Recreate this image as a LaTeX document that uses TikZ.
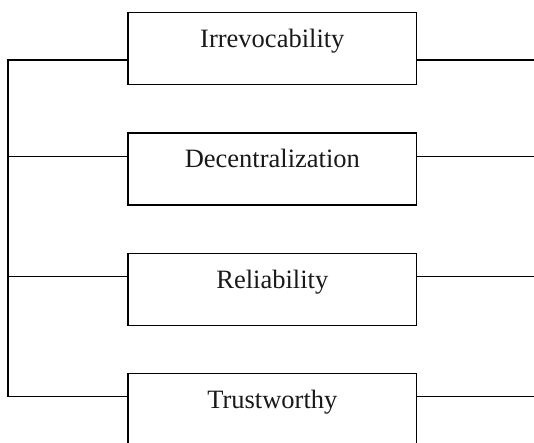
\documentclass[tikz,border=0pt]{standalone}
\usepackage{fontspec}
\setmainfont{Liberation Serif}
\begin{document}
\begin{tikzpicture}[x=1pt,y=1pt,
  prop/.style={draw, line width=1.4pt, rectangle, inner sep=0pt,
    minimum width=288.7pt, text height=35pt, text depth=37pt,
    anchor=north, font=\fontsize{26.5}{30}\selectfont, text=black!90},
  link/.style={line width=1.4pt}]
  \useasboundingbox (0,0) rectangle (534,-443);
  \clip (0,0) rectangle (534,-443);

  % the four property boxes
  \node[prop] (b1) at (272.35,-12)    {Irrevocability};
  \node[prop] (b2) at (272.35,-132.3) {Decentralization};
  \node[prop] (b3) at (272.35,-252.6) {Reliability};
  \node[prop] (b4) at (272.35,-372.7) {Trustworthy};

  % attachment heights on the left rail and the right edge
  \coordinate (l1) at (8,-60);
  \coordinate (l2) at (8,-156.3);
  \coordinate (l3) at (8,-276.6);
  \coordinate (l4) at (8,-396.7);
  \coordinate (r1) at (535,-60);
  \coordinate (r2) at (535,-156.3);
  \coordinate (r3) at (535,-276.6);
  \coordinate (r4) at (535,-396.7);

  % left rail joining all boxes
  \draw[link, line join=miter] (b1.west |- l1) -- (l1) -- (l4) -- (b4.west |- l4);
  \draw[link] (l2) -- (b2.west |- l2);
  \draw[link] (l3) -- (b3.west |- l3);

  % lines running off to the right
  \draw[link] (b1.east |- r1) -- (r1);
  \draw[link] (b2.east |- r2) -- (r2);
  \draw[link] (b3.east |- r3) -- (r3);
  \draw[link] (b4.east |- r4) -- (r4);
\end{tikzpicture}
\end{document}
